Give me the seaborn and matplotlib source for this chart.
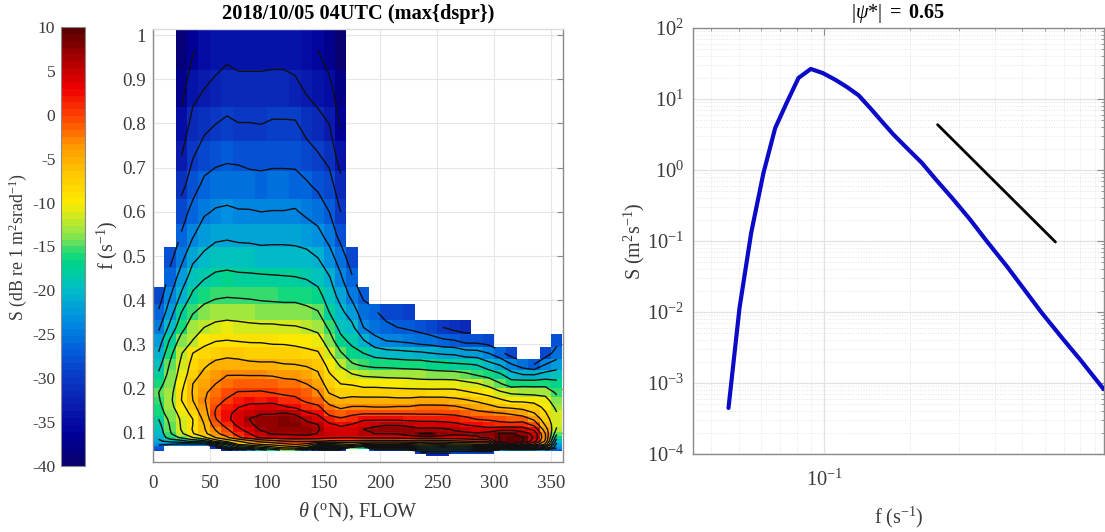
import numpy as np
import seaborn as sns
import matplotlib
matplotlib.use("Agg")
import matplotlib.pyplot as plt
from matplotlib.colors import ListedColormap
from matplotlib.ticker import FixedLocator, NullFormatter, FuncFormatter

sns.set_theme(style="white")
plt.rcParams.update({
    "font.family": ["Liberation Serif", "DejaVu Sans"],
    "mathtext.fontset": "custom",
    "mathtext.rm": "Liberation Serif",
    "mathtext.it": "Liberation Serif:italic",
    "mathtext.bf": "Liberation Serif:bold",
    "axes.unicode_minus": False,
})

n = np.nan
TITLE_LEFT = "2018/10/05 04UTC (max{dspr})"
TITLE_RIGHT = r"$|\psi$*$|$ $\mathbf{=\ 0.65}$"

theta_edges = list(range(0, 361, 10))
f_edges = [1.013, .921, .837, .761, .692, .629, .572, .520, .473, .430, .391, .355, .323,
           .294, .267, .243, .221, .201, .182, .166, .151, .137, .125, .113, .103, .0937,
           .0852, .0774, .0704, .064, .0582, .0529, .0481]

# Spectral level (dB) per direction column, listed from the highest frequency band downward
col00 = [n]*9 + [-28.7,-26.6,-24.5,-22.5,-20.8,-19,-17.5,-16,-15,-15.3,-15.8,-16.3,-18,-18.8,-19.5,-20,-20.5,-21.5,-23,-27,-29]
col01 = [n]*7 + [-27.8,-26,-24.2,-22.3,-20.2,-17.6,-15.8,-14.7,-14,-13.5,-13,-12.7,-13,-13.7,-14.2,-14.7,-15,-15.3,-16.5,-20,-24]
col02 = [-39,-37,-35,-33,-31,-28.4,-26.7,-24.8,-22.6,-20.5,-18,-16,-13.8,-12.2,-11.4,-10.8,-10,-9.2,-9,-10,-11,-11.6,-11.7,-11.8,-12.5,-14.5,-19,-25]
col03 = [-36.3,-34,-32,-30.2,-28.2,-26,-24.2,-21.6,-19.6,-17.4,-15.2,-13.3,-11.9,-9,-8,-7.2,-6,-5.8,-6,-7,-8,-9,-9,-8.8,-9.2,-12,-17,-25]
col04 = [-35,-33,-30.8,-28.5,-26.3,-24.4,-22.3,-20.4,-18.2,-16,-14,-12,-9.8,-8,-6.5,-5.3,-4.3,-3.4,-3.2,-3.7,-4.5,-5.3,-6,-6.3,-6.8,-9.5,-16,-25]
col05 = [-34.5,-32.2,-30,-27.8,-25.7,-23.7,-21.6,-19.5,-17.4,-15.4,-13.4,-11.2,-9.1,-7.2,-5.3,-3.9,-3,-2,-1,-.2,.3,-.2,-1.5,-2.8,-3.8,-6,-11,-22,-30]
col06 = [-33.8,-31.6,-29.5,-27.5,-25.5,-23.5,-21.4,-19.3,-17.2,-15.2,-13.1,-11,-8.9,-6.8,-4.9,-3.1,-2,-.9,.3,1.6,2.4,2.3,1.2,-.3,-1.5,-3.5,-8,-17,-22,-32]
col07 = [-34.2,-32,-29.9,-27.6,-25.6,-23.8,-21.6,-19.6,-17.4,-15.3,-13.2,-11.2,-9.1,-7.1,-5,-3.1,-1.7,.2,1.5,2.9,3.8,4.5,3.8,2.3,1,-.5,-6,-9,-16,-27]
col08 = [-34.2,-32,-29.9,-27.9,-25.9,-23.8,-21.7,-19.6,-17.5,-15.4,-13.4,-11.4,-9.3,-7.2,-5.5,-3.2,-1.3,.2,2.2,3.7,5,6.1,5.5,4.5,3,1.5,-4,-7,-15,-23]
col09 = [-34.2,-32,-30,-28,-26,-24,-21.9,-19.8,-17.6,-15.6,-13.6,-11.5,-9.3,-7.4,-5.6,-3.2,-1.3,.3,2,4,5.8,7,7,6.3,5.2,3.5,-2,-6,-12,-19]
col10 = [-34.2,-31.8,-29.7,-27.8,-25.9,-23.9,-21.8,-19.8,-17.7,-15.7,-13.7,-11.5,-9.5,-7.7,-5.5,-3.3,-1.5,-.1,2.2,4,5.8,7.3,7.6,7,6.2,4,-1,-5,-10,-17]
col11 = [-34.2,-31.8,-29.7,-27.8,-25.9,-23.9,-21.8,-19.8,-17.8,-15.8,-13.8,-11.7,-9.6,-7.6,-5.9,-3.8,-1.9,-.6,1.3,3.3,6.2,7.7,8.1,7.4,6.4,4.5,0,-4,-8,-14]
col12 = [-34.5,-32.2,-29.7,-27.8,-26,-23.7,-21.9,-19.9,-17.9,-15.8,-13.8,-11.8,-9.8,-7.9,-6,-4,-2.1,-.8,.7,2.6,5.6,7.5,8.2,7.6,6.5,4.7,.5,-3,-7,-15]
col13 = [-35,-33.4,-31,-28.8,-26.6,-24.6,-22.2,-20.2,-18.2,-16.2,-14.2,-12.2,-10.3,-8.2,-6.4,-4.5,-3,-1.5,-.6,1.3,3.5,5.5,6.7,7.5,7.2,4.5,.5,-4,-9,-25]
col14 = [-36,-34.2,-32,-29.7,-27.6,-25.2,-23.2,-21,-19,-17,-14.8,-12.9,-10.7,-8.7,-6.7,-5.7,-4.2,-2.7,-1.5,.6,2.5,4.5,6,6.3,5.8,4.2,.5,-8,-20,-30]
col15 = [-37.5,-35.2,-33,-30.9,-28.7,-27,-24.9,-22.9,-20.8,-19.5,-18,-15.5,-13.6,-11.7,-10.2,-8.7,-7.6,-6.2,-4.2,-2.3,-.7,1.5,3.5,4.5,4.8,3.5,-.5,-8,-19,-30]
col16 = [-39.5,-37.8,-36.3,-34.5,-32,-30,-28,-25.3,-23.6,-22,-20.3,-19,-17,-14.7,-12.4,-10.7,-9,-7.5,-5.5,-3.5,-1.5,.4,2.5,3.8,4.2,3,-.5,-7,-17,-30]
col17 = [n]*7 + [-28.8,-26.7,-24.7,-22.4,-20.3,-18.9,-16.8,-14.7,-11.8,-9.3,-7.2,-5,-2.8,-.6,1.3,3.1,4,4.3,3,-.5,-6,-15]
col18 = [n]*9 + [-27.5,-25.6,-24,-20.7,-18,-15.5,-12.5,-10,-7.5,-5,-2.8,-.2,2.5,4.5,6,5.8,3.5,-1,-8,-17]
col19 = [n]*10 + [-26.5,-25.5,-23,-19.2,-16,-12.7,-10,-7.5,-5,-3,-.2,2.4,5.2,7,6,3.5,-1,-9,-18,-28]
col20 = [n]*10 + [-28.5,-26,-24,-19.8,-16,-12.9,-10.2,-7.6,-5,-3,-.2,2.4,5.7,7.2,6,3.5,-1,-9,-18,-28]
col21 = [n]*10 + [-29,-27,-24.3,-20,-16.3,-13,-10.3,-7.8,-5.2,-2.8,-.2,2.3,5.6,7.5,6.2,3.7,-1,-9,-18,-28]
col22 = [n]*10 + [-29.5,-27.5,-24.7,-20.3,-16.5,-13.1,-10.4,-7.9,-5.2,-2.8,-.2,2.1,5.1,7.3,7.6,4.2,-.5,-8,-18,-27]
col23 = [n]*11 + [-28,-25.4,-20.5,-16.5,-13.4,-10.6,-7.9,-4.7,-2.3,-.3,2,4.5,6.4,9.1,5,-.5,-7,-16,-24,-30]
col24 = [n]*11 + [-29,-25.7,-21,-17,-13.6,-10.6,-8,-4.7,-2.3,-.3,2,4.5,6.7,9.2,5,-1,-8,-16,-24,-29,-32]
col25 = [n]*11 + [-30,-26.5,-21.4,-17.3,-13.7,-10.5,-8,-4.7,-2.4,-.4,1.9,4.2,6.4,7.2,5,-1,-8,-17,-24,-29,-32]
col26 = [n]*11 + [-31,-26.8,-21.6,-17.6,-13.8,-10.6,-8,-5.2,-2.6,-.6,1.5,3.8,5.8,6.4,5,-.5,-7,-16,-24,-29]
col27 = [n]*11 + [-31.5,-28,-22.6,-17.8,-14.4,-11.2,-8.6,-5.8,-3.4,-1.3,.9,2.8,5,6.6,5.2,0,-7,-16,-24,-29]
col28 = [n]*12 + [-28,-22.8,-18.2,-15.3,-11.8,-9.3,-6.6,-4.2,-2.1,-.1,2.2,4.4,6.3,5.8,.5,-6,-15,-23,-29]
col29 = [n]*12 + [-28.5,-24,-20,-16.1,-12.9,-10,-7.6,-5.1,-2.4,-.4,1.7,3.9,7.5,6.5,1,-6,-15,-23,-29]
col30 = [n]*13 + [-26,-21.3,-17.5,-14.7,-11.5,-8.5,-6.2,-2.8,-.9,1,4.8,9.2,9.1,9.2,3,-13,-24]
col31 = [n]*13 + [-28.5,-23.8,-19.8,-16.5,-12.5,-9.7,-6.6,-3.3,-1.5,1,5,9.2,9.6,9.5,9.1,-8,-22]
col32 = [n]*14 + [-25.6,-21,-16,-12.8,-9.7,-7,-4.3,-1.4,1.4,4.4,7.5,9.3,9.1,4,-10,-22]
col33 = [n]*14 + [-27,-21.1,-16,-13,-9.9,-7.8,-5.8,-3.5,-.9,2.2,5.1,5.6,4.5,-.5,-11,-22]
col34 = [n]*13 + [-28.8,-24,-20,-16,-13,-11,-9.7,-8.7,-7.7,-6.4,-4.5,-3,-2.7,-3.5,-7,-15,-24]
col35 = [n]*12 + [-28.2,-25.6,-22.7,-19.5,-17,-15.5,-14,-12.7,-11.8,-11.2,-11.3,-12.5,-14.5,-17,-20,-22,-23,-27]

columns = [col00, col01, col02, col03, col04, col05, col06, col07, col08, col09, col10, col11,
           col12, col13, col14, col15, col16, col17, col18, col19, col20, col21, col22, col23,
           col24, col25, col26, col27, col28, col29, col30, col31, col32, col33, col34, col35]

contour_levels = [-36, -33, -30, -27, -24, -21, -18, -15, -12, -9, -6, -3, 0, 3, 6, 9]
cbar_ticks = [-40, -35, -30, -25, -20, -15, -10, -5, 0, 5, 10]
x_ticks = [0, 50, 100, 150, 200, 250, 300, 350]
y_ticks = [.1, .2, .3, .4, .5, .6, .7, .8, .9, 1]

# Colours at evenly spaced steps from -40 to 10
palette_anchors = ["#08006e", "#00009a", "#0a1eb0", "#0a3cc8", "#0062dc", "#0090e1", "#00bdc8",
                   "#00d782", "#96e646", "#fceb00", "#ffc800", "#ff9600", "#ff4600", "#f00000",
                   "#aa0000", "#5a0000"]

# Omnidirectional spectrum
spec_f = [.046, .0503, .0553, .0611, .0672, .0739, .0812, .0897, .0989, .1094, .1202, .1322, .1453,
          .1597, .1756, .1957, .2211, .2463, .2859, .3273, .3748, .4408, .5187, .5858, .6985, .7998, .9667]
spec_S = [4.45e-4, .01138, .130, .908, 3.9, 8.97, 19.8, 26.5, 23.2, 18.7, 14.8, 11.3, 7.47,
          4.84, 3.15, 2.04, 1.26, .755, .382, .2, .0989, .044, .0185, .00968, .00407, .00213, .00082]
ref_f = [.2512, .654]
ref_S = [4.35, .0968]

W, H = 1105, 532
fig = plt.figure(figsize=(W / 100, H / 100), dpi=100, facecolor="white")


def box(x0, y0, x1, y1):
    return [x0 / W, 1 - y1 / H, (x1 - x0) / W, (y1 - y0) / H]


GRAY = "#3a3a3a"
SPINE = "#8a8a8a"
TICK = 13.6

S = np.array([(c + [n] * 32)[:32] for c in columns], dtype=float).T
fe = np.array(f_edges)
fc = np.sqrt(fe[:-1] * fe[1:])
th = np.array(theta_edges, dtype=float)
thc = (th[:-1] + th[1:]) / 2

cmap = ListedColormap(sns.blend_palette(palette_anchors, n_colors=64))

ax = fig.add_axes(box(153, 29, 563, 462))
ax.set_axisbelow(True)
ax.grid(True, color="#e6e6e6", lw=.8)
mesh = ax.pcolormesh(th, fe, np.ma.masked_invalid(S), cmap=cmap, vmin=-40, vmax=10, zorder=2)
ax.contour(thc, fc, np.ma.masked_invalid(S), levels=contour_levels, colors="#101010",
           linewidths=1.0, linestyles="solid", zorder=3)
ax.set_xlim(0, 360.5)
ax.set_ylim(.034, 1.0136)
ax.set_xticks(x_ticks)
ax.set_yticks(y_ticks)
ax.set_yticklabels(["0.1", "0.2", "0.3", "0.4", "0.5", "0.6", "0.7", "0.8", "0.9", "1"])
ax.tick_params(direction="in", length=4, width=.8, color=SPINE, labelcolor=GRAY, labelsize=TICK, pad=4.8,
               top=False, right=True)
ax.tick_params(axis="x", pad=9)
for s in ax.spines.values():
    s.set_color(SPINE)
    s.set_linewidth(1)
ax.spines["top"].set_color("#dddddd")
ax.set_title(TITLE_LEFT, fontsize=14.7, fontweight="bold", color="black", pad=7)
ax.set_xlabel(r"$\theta$ ($^{\mathrm{o}}$N), FLOW", fontsize=14.5, color=GRAY, labelpad=6.5)
ax.set_ylabel(r"f (s$^{-1}$)", fontsize=14.5, color=GRAY, labelpad=2)

cax = fig.add_axes(box(61, 27, 85, 466))
cb = fig.colorbar(mesh, cax=cax, ticks=cbar_ticks, drawedges=False)
cax.yaxis.set_ticks_position("left")
cax.yaxis.set_label_position("left")
cax.tick_params(direction="in", length=3, width=.7, color="#333333", labelcolor=GRAY, labelsize=12.6, pad=4)
cb.outline.set_edgecolor(SPINE)
cb.outline.set_linewidth(.8)
cb.set_label(r"S (dB re 1 m$^{2}$srad$^{-1}$)", fontsize=12.8, color=GRAY, labelpad=2)

ax2 = fig.add_axes(box(692.7, 28, 1104, 454))
sns.lineplot(x=spec_f, y=spec_S, ax=ax2, color="#0a0ac8", lw=3, estimator=None, sort=False, zorder=4)
sns.lineplot(x=ref_f, y=ref_S, ax=ax2, color="black", lw=2, estimator=None, sort=False, zorder=4)
ax2.set_xscale("log")
ax2.set_yscale("log")
ax2.set_xlim(.0344, .97)
ax2.set_ylim(1e-4, 1e2)
ax2.xaxis.set_major_locator(FixedLocator([.1]))
ax2.xaxis.set_minor_locator(FixedLocator([.04, .05, .06, .07, .08, .09, .2, .3, .4, .5, .6, .7, .8, .9]))
ax2.xaxis.set_major_formatter(FuncFormatter(lambda v, p: r"$\mathrm{10^{-1}}$"))
ax2.xaxis.set_minor_formatter(NullFormatter())
ax2.yaxis.set_major_locator(FixedLocator([10.0 ** e for e in range(-4, 3)]))
ax2.yaxis.set_minor_locator(FixedLocator([m * 10.0 ** e for e in range(-4, 2) for m in range(2, 10)]))
ax2.yaxis.set_major_formatter(FuncFormatter(lambda v, p: r"$\mathrm{10^{%d}}$" % round(np.log10(v))))
ax2.yaxis.set_minor_formatter(NullFormatter())
ax2.set_axisbelow(True)
ax2.grid(True, which="major", color="#e2e2e2", lw=.9)
ax2.grid(True, which="minor", color="#e4e4e4", lw=.7, ls=":")
ax2.tick_params(which="major", direction="in", length=5, width=.8, color=SPINE, labelcolor=GRAY,
                labelsize=14.8, pad=6, top=True, right=True)
ax2.tick_params(axis="x", which="major", pad=11)
ax2.tick_params(which="minor", direction="in", length=2.5, width=.6, color=SPINE, top=True, right=True)
for s in ax2.spines.values():
    s.set_color(SPINE)
    s.set_linewidth(1)
ax2.set_title(TITLE_RIGHT, fontsize=14.5, color="black", pad=7.5)
ax2.set_xlabel(r"f (s$^{-1}$)", fontsize=14.5, color=GRAY, labelpad=10)
ax2.set_ylabel(r"S (m$^{2}$s$^{-1}$)", fontsize=14.5, color=GRAY, labelpad=0)

fig.savefig("out.png", dpi=100)
